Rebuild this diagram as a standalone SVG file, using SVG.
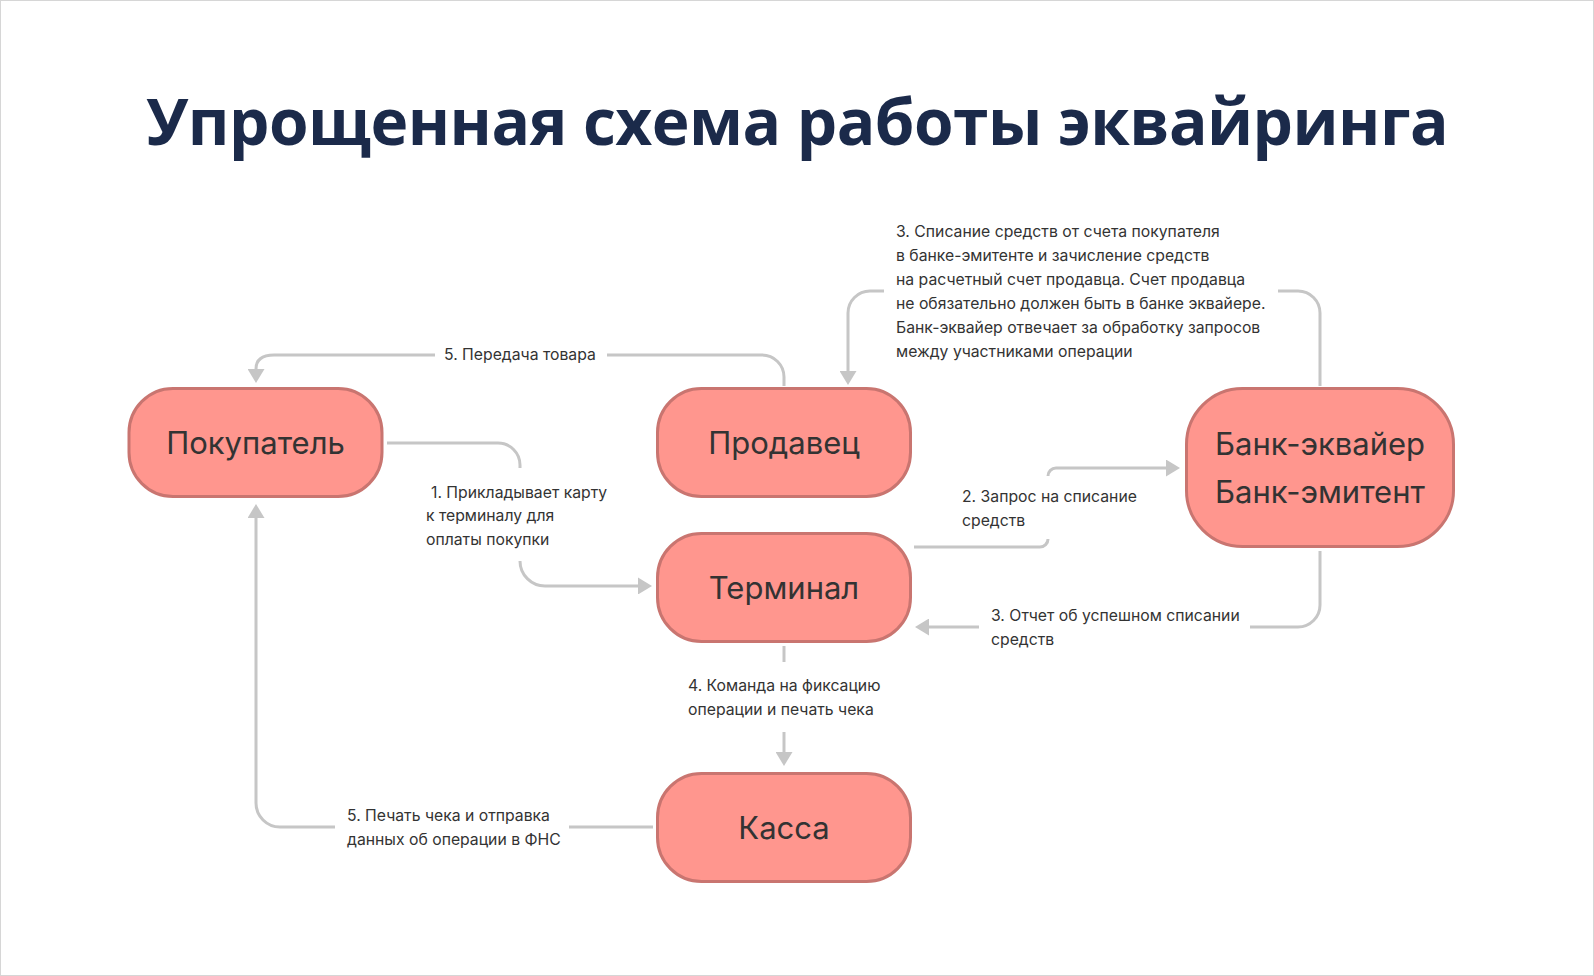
<svg xmlns="http://www.w3.org/2000/svg" width="1594" height="976" viewBox="0 0 1594 976">
  <defs>
    <marker id="arr" markerUnits="userSpaceOnUse" markerWidth="14" markerHeight="17" refX="0" refY="8.5" orient="auto">
      <path d="M0,0 L14,8.5 L0,17 z" fill="#C6C6C6"/>
    </marker>
  </defs>
  <style>
    .node rect { fill: #FF968E; stroke: #C97570; stroke-width: 3; }
    .node text { font-family: Inter, "Liberation Sans", sans-serif; font-size: 31px; fill: #333333; text-anchor: middle; }
    .conn path { fill: none; stroke: #C6C6C6; stroke-width: 3; }
    .lbl { font-family: Inter, "Liberation Sans", sans-serif; font-size: 15.75px; fill: #333333; }
    .title { font-family: "Open Sans", "Noto Sans", sans-serif; font-weight: 700; font-size: 64px; letter-spacing: -0.55px; fill: #1B2A4A; text-anchor: middle; }
  </style>
  <rect x="0.5" y="0.5" width="1593" height="975" fill="#FFFFFF" stroke="#D6D6D6" stroke-width="1"/>
  <text class="title" x="797" y="145">Упрощенная схема работы эквайринга</text>

  <g id="connectors" class="conn">
    <path d="M784,386 V377 A22,22 0 0 0 762,355 H607"/>
    <path d="M435,355 H274 Q256,355 256,369" marker-end="url(#arr)"/>
    <path d="M387,443 H498 A22,22 0 0 1 520,465 V468"/>
    <path d="M520,561 A25,25 0 0 0 545,586 H638" marker-end="url(#arr)"/>
    <path d="M1320,386 V313 A22,22 0 0 0 1298,291 H1278"/>
    <path d="M884,291 H870 A22,22 0 0 0 848,313 V371" marker-end="url(#arr)"/>
    <path d="M914,547 H1040 A8,8 0 0 0 1048,539"/>
    <path d="M1048,476 A8,8 0 0 1 1056,468 H1166" marker-end="url(#arr)"/>
    <path d="M1320,551 V605 A22,22 0 0 1 1298,627 H1250"/>
    <path d="M979,627 H929" marker-end="url(#arr)"/>
    <path d="M784,646 V662"/>
    <path d="M784,732 V752" marker-end="url(#arr)"/>
    <path d="M653,827 H569"/>
    <path d="M335,827 H280 A24,24 0 0 1 256,803 V518" marker-end="url(#arr)"/>
  </g>

  <g id="labels">
    <text class="lbl" x="444" y="360">5. Передача товара</text>
    <text class="lbl" x="431" y="498">1. Прикладывает карту</text>
    <text class="lbl" x="426" y="521">к терминалу для</text>
    <text class="lbl" x="426" y="545">оплаты покупки</text>
    <text class="lbl" x="896" y="237">3. Списание средств от счета покупателя</text>
    <text class="lbl" x="896" y="261">в банке-эмитенте и зачисление средств</text>
    <text class="lbl" x="896" y="285">на расчетный счет продавца. Счет продавца</text>
    <text class="lbl" x="896" y="309">не обязательно должен быть в банке эквайере.</text>
    <text class="lbl" x="896" y="333">Банк-эквайер отвечает за обработку запросов</text>
    <text class="lbl" x="896" y="357">между участниками операции</text>
    <text class="lbl" x="962" y="502">2. Запрос на списание</text>
    <text class="lbl" x="962" y="526">средств</text>
    <text class="lbl" x="991" y="621">3. Отчет об успешном списании</text>
    <text class="lbl" x="991" y="645">средств</text>
    <text class="lbl" x="688" y="691">4. Команда на фиксацию</text>
    <text class="lbl" x="688" y="715">операции и печать чека</text>
    <text class="lbl" x="347" y="821">5. Печать чека и отправка</text>
    <text class="lbl" x="347" y="845">данных об операции в ФНС</text>
  </g>

  <g id="node-pokupatel" class="node">
    <rect x="129" y="388.5" width="253" height="108" rx="44"/>
    <text x="255.5" y="454">Покупатель</text>
  </g>
  <g id="node-prodavets" class="node">
    <rect x="657.5" y="388.5" width="253" height="108" rx="44"/>
    <text x="784" y="454">Продавец</text>
  </g>
  <g id="node-terminal" class="node">
    <rect x="657.5" y="533.5" width="253" height="108" rx="44"/>
    <text x="784" y="599">Терминал</text>
  </g>
  <g id="node-kassa" class="node">
    <rect x="657.5" y="773.5" width="253" height="108" rx="44"/>
    <text x="784" y="839">Касса</text>
  </g>
  <g id="node-bank" class="node">
    <rect x="1186.5" y="388.5" width="267" height="158" rx="56"/>
    <text x="1320" y="455">Банк-эквайер</text>
    <text x="1320" y="503">Банк-эмитент</text>
  </g>
</svg>
